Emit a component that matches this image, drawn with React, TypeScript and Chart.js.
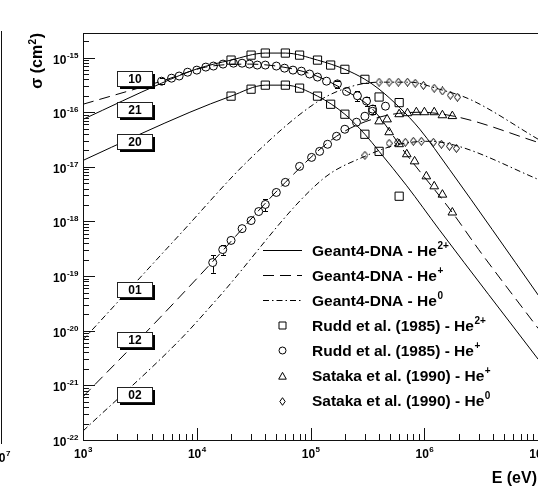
import React, { useEffect, useRef } from 'react';
import { Chart, registerables } from 'chart.js';

Chart.register(...registerables);

// ---------- axes ----------
const X_MIN = 1e3;
const X_MAX = 1e7;
const Y_MIN = 1e-22;
const Y_MAX = 2.82e-15;
const X_DECADES = [3, 4, 5, 6, 7];
const Y_DECADES = [-22, -21, -20, -19, -18, -17, -16, -15];

// ---------- Geant4-DNA model curves (E in eV, sigma in cm2) ----------
const g4_21_E = [1e3, 4.9e3, 1e4, 2e4, 4e4, 6e4, 1.15e5, 2e5, 3e5, 4e5, 6e5, 9.1e5, 1.66e6, 3.95e6, 1e7];
const g4_21_S = [7.4e-17, 3.4e-16, 6.2e-16, 9.0e-16, 1.21e-15, 1.21e-15, 9.0e-16, 6.1e-16, 4.0e-16, 2.64e-16, 1.24e-16, 4.9e-17, 9.0e-18, 7.1e-19, 4.5e-20];

const g4_20_E = [1e3, 3.16e3, 8.7e3, 2e4, 4e4, 6e4, 1.15e5, 2e5, 3e5, 4e5, 7e5, 1.35e6, 1e7];
const g4_20_S = [1.31e-17, 3.95e-17, 1.0e-16, 1.97e-16, 3.13e-16, 3.13e-16, 1.97e-16, 9.2e-17, 3.95e-17, 1.92e-17, 4.5e-18, 7.1e-19, 3.0e-21];

const g4_10_E = [1e3, 4.9e3, 1.2e4, 2.9e4, 6.5e4, 1.13e5, 2.07e5, 3.5e5, 6.95e5, 1.76e6, 3.0e6, 1e7];
const g4_10_S = [1.4e-16, 3.7e-16, 6.7e-16, 7.6e-16, 6.4e-16, 4.6e-16, 2.43e-16, 1.14e-16, 1.69e-17, 1.46e-18, 3.06e-19, 1.1e-20];

const g4_12_E = [1e3, 3.9e3, 1.38e4, 6e4, 1.69e5, 4e5, 9.1e5, 2e6, 1e7];
const g4_12_S = [6.2e-22, 1.13e-20, 1.85e-19, 5.2e-18, 3.63e-17, 8.1e-17, 1.0e-16, 8.1e-17, 2.8e-17];

const g4_01_E = [1e3, 7.1e3, 2.9e4, 1.13e5, 2.18e5, 4e5, 7.4e5, 1.35e6, 2.5e6, 1e7];
const g4_01_S = [6.8e-21, 5.8e-19, 1.37e-17, 1.52e-16, 2.88e-16, 3.55e-16, 3.55e-16, 2.64e-16, 1.73e-16, 3.2e-17];

const g4_02_E = [1e3, 7.1e3, 1.49e4, 1.27e5, 3e5, 6e5, 1.11e6, 2e6, 1e7];
const g4_02_S = [1.46e-22, 6.8e-21, 3.7e-20, 5.9e-18, 1.56e-17, 2.59e-17, 2.94e-17, 2.38e-17, 5.9e-18];

// ---------- experimental data ----------
// Rudd et al. (1985) - He2+
const rudd21_E = [2e4, 3e4, 4e4, 6e4, 8e4, 1.15e5, 1.5e5, 2e5, 3e5, 4e5, 6e5];
const rudd21_S = [9.0e-16, 1.11e-15, 1.21e-15, 1.21e-15, 1.11e-15, 9.0e-16, 7.3e-16, 6.1e-16, 4.0e-16, 1.9e-16, 1.5e-16];
const rudd20_E = [2e4, 3e4, 4e4, 6e4, 8e4, 1.15e5, 1.5e5, 2e5, 3e5, 4e5, 6e5];
const rudd20_S = [1.97e-16, 2.64e-16, 3.13e-16, 3.13e-16, 2.76e-16, 1.97e-16, 1.4e-16, 9.2e-17, 3.95e-17, 1.92e-17, 2.9e-18];

// Rudd et al. (1985) - He+
const rudd10_E = [4.9e3, 6e3, 7e3, 8.3e3, 1e4, 1.2e4, 1.4e4, 1.7e4, 2.1e4, 2.5e4, 2.9e4, 3.4e4, 4e4, 5e4, 5.9e4, 7e4, 8.3e4, 9.8e4, 1.15e5, 1.38e5, 1.72e5, 2.07e5, 2.58e5, 3.1e5, 3.5e5, 4.55e5];
const rudd10_S = [3.7e-16, 4.2e-16, 4.6e-16, 5.4e-16, 5.9e-16, 6.7e-16, 7.0e-16, 7.6e-16, 7.9e-16, 7.9e-16, 7.6e-16, 7.3e-16, 7.3e-16, 7.0e-16, 6.4e-16, 5.9e-16, 5.65e-16, 5.0e-16, 4.4e-16, 3.7e-16, 3.3e-16, 2.4e-16, 2.0e-16, 1.6e-16, 1.14e-16, 1.29e-16];
const rudd10_Err = [0.12, 0, 0, 0, 0, 0, 0, 0, 0, 0, 0, 0, 0, 0, 0, 0, 0, 0, 0, 0, 0.15, 0, 0.2, 0.2, 0.2, 0];
const rudd12_E = [1.38e4, 1.69e4, 2e4, 2.5e4, 3e4, 3.5e4, 4e4, 5e4, 6e4, 8e4, 1.02e5, 1.2e5, 1.41e5, 1.69e5, 2e5, 2.53e5, 3e5, 3.5e5];
const rudd12_S = [1.77e-19, 3.06e-19, 4.5e-19, 7.4e-19, 1.04e-18, 1.52e-18, 2.05e-18, 3.4e-18, 5.2e-18, 1.02e-17, 1.49e-17, 1.92e-17, 2.59e-17, 3.63e-17, 4.88e-17, 6.56e-17, 8.45e-17, 1.04e-16];
const rudd12_Err = [0.35, 0.2, 0, 0, 0, 0, 0.25, 0, 0, 0, 0, 0, 0, 0, 0, 0, 0, 0];

// Sataka et al. (1990) - He+
const sat12_E = [4.0e5, 4.7e5, 6e5, 7.1e5, 8.5e5, 1e6, 1.22e6, 1.44e6, 1.76e6];
const sat12_S = [6.8e-17, 7.4e-17, 9.2e-17, 9.6e-17, 1.0e-16, 1.0e-16, 1.0e-16, 8.8e-17, 8.5e-17];
const sat10_E = [4.9e5, 6e5, 7e5, 8.2e5, 1.04e6, 1.22e6, 1.44e6, 1.76e6];
const sat10_S = [4.3e-17, 2.6e-17, 1.7e-17, 1.26e-17, 6.7e-18, 4.4e-18, 3.1e-18, 1.46e-18];

// Sataka et al. (1990) - He0
const sat01_E = [4.0e5, 4.9e5, 5.9e5, 7.1e5, 8.3e5, 9.8e5, 1.22e6, 1.44e6, 1.69e6, 1.95e6];
const sat01_S = [3.55e-16, 3.55e-16, 3.55e-16, 3.55e-16, 3.4e-16, 3.1e-16, 2.75e-16, 2.45e-16, 2.05e-16, 1.88e-16];
const sat02_E = [3.0e5, 4.9e5, 5.8e5, 6.8e5, 8e5, 9.4e5, 1.2e6, 1.41e6, 1.66e6, 1.91e6];
const sat02_S = [1.63e-17, 2.7e-17, 2.82e-17, 2.82e-17, 2.94e-17, 2.94e-17, 2.82e-17, 2.59e-17, 2.38e-17, 2.18e-17];

// ---------- annotations ----------
const boxLabels = ['10', '21', '20', '01', '12', '02'];
const boxAnchorE = [2.83e3, 2.83e3, 2.83e3, 2.83e3, 2.83e3, 2.83e3];
const boxAnchorS = [4.14e-16, 1.1e-16, 2.9e-17, 5.65e-20, 6.86e-21, 6.9e-22];

const legendBase = [
  'Geant4-DNA - He',
  'Geant4-DNA - He',
  'Geant4-DNA - He',
  'Rudd et al. (1985) - He',
  'Rudd et al. (1985) - He',
  'Sataka et al. (1990) - He',
  'Sataka et al. (1990) - He',
];
const legendSup = ['2+', '+', '0', '2+', '+', '+', '0'];

const FONT = '"Liberation Sans", Arial, Helvetica, sans-serif';
const DASH_HE1 = [11, 6];
const DASH_HE0 = [6, 3, 1.5, 3];

const W = 545;
const H = 499;

const pts = (E: number[], S: number[]) => E.map((e, i) => ({ x: e, y: S[i] }));

function makeDiamond(w: number, h: number): HTMLCanvasElement {
  const c = document.createElement('canvas');
  c.width = w;
  c.height = h;
  const g = c.getContext('2d') as CanvasRenderingContext2D;
  g.strokeStyle = '#000';
  g.lineWidth = 1;
  g.beginPath();
  g.moveTo(w / 2, 0.5);
  g.lineTo(w - 0.5, h / 2);
  g.lineTo(w / 2, h - 0.5);
  g.lineTo(0.5, h / 2);
  g.closePath();
  g.stroke();
  return c;
}

function curve(label: string, E: number[], S: number[], dash: number[]) {
  return {
    label,
    data: pts(E, S),
    showLine: true,
    borderColor: '#000',
    borderWidth: 1,
    borderDash: dash,
    pointRadius: 0,
    pointHoverRadius: 0,
    fill: false,
    cubicInterpolationMode: 'monotone' as const,
    order: 2,
  };
}

function markers(label: string, E: number[], S: number[], style: any, r: number) {
  return {
    label,
    data: pts(E, S),
    showLine: false,
    pointStyle: style,
    pointRadius: r,
    pointHoverRadius: r,
    pointBorderWidth: 1,
    borderColor: '#000',
    pointBorderColor: '#000',
    backgroundColor: 'rgba(0,0,0,0)',
    pointBackgroundColor: 'rgba(0,0,0,0)',
    order: 1,
  };
}

function drawMarker(ctx: CanvasRenderingContext2D, style: string, x: number, y: number, s: number) {
  ctx.beginPath();
  if (style === 'rect') {
    ctx.rect(x - s, y - s, 2 * s, 2 * s);
  } else if (style === 'circle') {
    ctx.arc(x, y, s, 0, Math.PI * 2);
  } else if (style === 'triangle') {
    ctx.moveTo(x, y - s * 1.1);
    ctx.lineTo(x + s, y + s * 0.7);
    ctx.lineTo(x - s, y + s * 0.7);
    ctx.closePath();
  } else if (style === 'rectRot') {
    ctx.moveTo(x, y - s);
    ctx.lineTo(x + s * 0.7, y);
    ctx.lineTo(x, y + s);
    ctx.lineTo(x - s * 0.7, y);
    ctx.closePath();
  }
  ctx.stroke();
}

function drawSup(
  ctx: CanvasRenderingContext2D,
  base: string,
  sup: string,
  x: number,
  y: number,
  align: 'left' | 'center' | 'right',
  baseFont: string,
  supFont: string,
  raise: number
) {
  ctx.font = baseFont;
  const wb = ctx.measureText(base).width;
  ctx.font = supFont;
  const ws = ctx.measureText(sup).width;
  const total = wb + ws;
  const x0 = align === 'center' ? x - total / 2 : align === 'right' ? x - total : x;
  ctx.textAlign = 'left';
  ctx.textBaseline = 'alphabetic';
  ctx.font = baseFont;
  ctx.fillText(base, x0, y);
  ctx.font = supFont;
  ctx.fillText(sup, x0 + wb + 0.5, y - raise);
}

const decoPlugin = {
  id: 'deco',
  beforeDraw(chart: any) {
    const ctx: CanvasRenderingContext2D = chart.ctx;
    ctx.save();
    ctx.fillStyle = '#fff';
    ctx.fillRect(0, 0, chart.width, chart.height);
    ctx.restore();
  },
  afterDatasetsDraw(chart: any) {
    const ctx: CanvasRenderingContext2D = chart.ctx;
    const xs = chart.scales.x;
    const ys = chart.scales.y;
    const { left, right, top, bottom } = chart.chartArea;
    ctx.save();

    // error bars
    ctx.strokeStyle = '#000';
    ctx.lineWidth = 1;
    const errBars = (E: number[], S: number[], err: number[]) => {
      E.forEach((e, i) => {
        if (!err[i]) return;
        const x = Math.round(xs.getPixelForValue(e)) + 0.5;
        const yc = ys.getPixelForValue(S[i]);
        const y1 = ys.getPixelForValue(S[i] * (1 + err[i]));
        const y2 = ys.getPixelForValue(S[i] * (1 - err[i]));
        ctx.beginPath();
        ctx.moveTo(x, y1);
        ctx.lineTo(x, yc - 4);
        ctx.moveTo(x, yc + 4);
        ctx.lineTo(x, y2);
        ctx.moveTo(x - 2.5, Math.round(y1) + 0.5);
        ctx.lineTo(x + 2.5, Math.round(y1) + 0.5);
        ctx.moveTo(x - 2.5, Math.round(y2) + 0.5);
        ctx.lineTo(x + 2.5, Math.round(y2) + 0.5);
        ctx.stroke();
      });
    };
    errBars(rudd10_E, rudd10_S, rudd10_Err);
    errBars(rudd12_E, rudd12_S, rudd12_Err);

    // frame
    ctx.strokeStyle = '#111';
    ctx.lineWidth = 1;
    ctx.strokeRect(left + 0.5, top + 0.5, right - left, bottom - top);

    // ticks
    ctx.beginPath();
    for (const d of X_DECADES) {
      for (let m = 1; m <= 9; m++) {
        const v = m * Math.pow(10, d);
        if (v < X_MIN || v > X_MAX) continue;
        const x = Math.round(xs.getPixelForValue(v)) + 0.5;
        const len = m === 1 ? 12 : 6;
        ctx.moveTo(x, bottom);
        ctx.lineTo(x, bottom - len);
      }
    }
    for (const d of Y_DECADES) {
      for (let m = 1; m <= 9; m++) {
        const v = m * Math.pow(10, d);
        if (v < Y_MIN || v > Y_MAX) continue;
        const y = Math.round(ys.getPixelForValue(v)) + 0.5;
        const len = m === 1 ? 12 : 6;
        ctx.moveTo(left, y);
        ctx.lineTo(left + len, y);
      }
    }
    ctx.stroke();

    // tick labels
    ctx.fillStyle = '#000';
    const bf = `bold 12px ${FONT}`;
    const sf = `bold 8px ${FONT}`;
    for (const d of X_DECADES) {
      const x = xs.getPixelForValue(Math.pow(10, d));
      drawSup(ctx, '10', String(d), x, bottom + 18, 'center', bf, sf, 6);
    }
    for (const d of Y_DECADES) {
      const y = ys.getPixelForValue(Math.pow(10, d));
      drawSup(ctx, '10', String(d), left - 5, y + 6, 'right', bf, sf, 6);
    }

    // neighbouring panel edge (cut off at the left of the picture)
    ctx.beginPath();
    ctx.moveTo(1.5, top - 2);
    ctx.lineTo(1.5, bottom + 4);
    ctx.stroke();
    drawSup(ctx, '10', '7', 1, bottom + 22, 'center', bf, sf, 6);

    // axis titles
    ctx.font = `bold 16px ${FONT}`;
    ctx.textAlign = 'right';
    ctx.textBaseline = 'alphabetic';
    ctx.fillText('E (eV)', 537, bottom + 43);
    ctx.save();
    ctx.translate(42, top);
    ctx.rotate(-Math.PI / 2);
    ctx.font = `bold 16px ${FONT}`;
    const tA = 'σ (cm';
    const tB = '2';
    const tC = ')';
    const wA = ctx.measureText(tA).width;
    const wC = ctx.measureText(tC).width;
    ctx.font = `bold 10px ${FONT}`;
    const wB = ctx.measureText(tB).width;
    const total = wA + wB + wC + 1;
    let xx = -total;
    ctx.textAlign = 'left';
    ctx.font = `bold 16px ${FONT}`;
    ctx.fillText(tA, xx, 0);
    xx += wA;
    ctx.font = `bold 10px ${FONT}`;
    ctx.fillText(tB, xx + 0.5, -6);
    xx += wB + 1;
    ctx.font = `bold 16px ${FONT}`;
    ctx.fillText(tC, xx, 0);
    ctx.restore();

    // label boxes
    boxLabels.forEach((lab, i) => {
      const cx = xs.getPixelForValue(boxAnchorE[i]);
      const cy = ys.getPixelForValue(boxAnchorS[i]);
      const bw = 35;
      const bh = 15;
      const x0 = Math.round(cx - bw / 2);
      const y0 = Math.round(cy - bh / 2);
      ctx.fillStyle = '#000';
      ctx.fillRect(x0 + 3, y0 + 3, bw, bh);
      ctx.fillStyle = '#fff';
      ctx.fillRect(x0, y0, bw, bh);
      ctx.strokeStyle = '#222';
      ctx.lineWidth = 1;
      ctx.strokeRect(x0 + 0.5, y0 + 0.5, bw, bh);
      ctx.fillStyle = '#000';
      ctx.font = `bold 12px ${FONT}`;
      ctx.textAlign = 'center';
      ctx.textBaseline = 'middle';
      ctx.fillText(lab, x0 + bw / 2 + 0.5, y0 + bh / 2 + 1);
    });

    // legend
    const lx0 = 263;
    const lx1 = 302;
    const mx = 282;
    const tx = 312;
    const ly0 = 250;
    const step = 25.1;
    const kinds = ['solid', 'dash', 'dashdot', 'rect', 'circle', 'triangle', 'rectRot'];
    const msize: Record<string, number> = { rect: 3.5, circle: 3.5, triangle: 3.8, rectRot: 3.8 };
    legendBase.forEach((txt, i) => {
      const y = ly0 + i * step;
      const k = kinds[i];
      ctx.strokeStyle = '#000';
      ctx.lineWidth = 1;
      if (k === 'solid' || k === 'dash' || k === 'dashdot') {
        ctx.save();
        ctx.setLineDash(k === 'solid' ? [] : k === 'dash' ? DASH_HE1 : DASH_HE0);
        ctx.beginPath();
        ctx.moveTo(lx0, Math.round(y) + 0.5);
        ctx.lineTo(lx1, Math.round(y) + 0.5);
        ctx.stroke();
        ctx.restore();
      } else {
        drawMarker(ctx, k, mx + 0.5, Math.round(y) + 0.5, msize[k]);
      }
      ctx.fillStyle = '#000';
      drawSup(ctx, txt, legendSup[i], tx, y + 5.5, 'left', `bold 15.5px ${FONT}`, `bold 10px ${FONT}`, 7);
    });

    ctx.restore();
  },
};

export default function App() {
  const ref = useRef<HTMLCanvasElement | null>(null);

  useEffect(() => {
    const canvas = ref.current;
    if (!canvas) return;
    const diamond = makeDiamond(7, 9);
    const chart = new Chart(canvas, {
      type: 'scatter',
      data: {
        datasets: [
          curve('Geant4-DNA 21', g4_21_E, g4_21_S, []),
          curve('Geant4-DNA 20', g4_20_E, g4_20_S, []),
          curve('Geant4-DNA 10', g4_10_E, g4_10_S, DASH_HE1),
          curve('Geant4-DNA 12', g4_12_E, g4_12_S, DASH_HE1),
          curve('Geant4-DNA 01', g4_01_E, g4_01_S, DASH_HE0),
          curve('Geant4-DNA 02', g4_02_E, g4_02_S, DASH_HE0),
          markers('Rudd He2+ 21', rudd21_E, rudd21_S, 'rect', 5.8),
          markers('Rudd He2+ 20', rudd20_E, rudd20_S, 'rect', 5.8),
          markers('Rudd He+ 10', rudd10_E, rudd10_S, 'circle', 4),
          markers('Rudd He+ 12', rudd12_E, rudd12_S, 'circle', 4),
          markers('Sataka He+ 12', sat12_E, sat12_S, 'triangle', 5),
          markers('Sataka He+ 10', sat10_E, sat10_S, 'triangle', 5),
          markers('Sataka He0 01', sat01_E, sat01_S, diamond, 4),
          markers('Sataka He0 02', sat02_E, sat02_S, diamond, 4),
        ] as any,
      },
      options: {
        animation: false,
        responsive: false,
        devicePixelRatio: 1,
        events: [],
        layout: { padding: { left: 83, top: 33, right: W - 539, bottom: H - 440 } },
        plugins: { legend: { display: false }, tooltip: { enabled: false }, title: { display: false } },
        scales: {
          x: { type: 'logarithmic', min: X_MIN, max: X_MAX, display: false },
          y: { type: 'logarithmic', min: Y_MIN, max: Y_MAX, display: false },
        },
      } as any,
      plugins: [decoPlugin],
    });
    return () => chart.destroy();
  }, []);

  return (
    <div
      style={{
        position: 'absolute',
        left: 0,
        top: 0,
        width: 538,
        height: 499,
        overflow: 'hidden',
        background: '#fff',
      }}
    >
      <canvas ref={ref} width={W} height={H} style={{ width: W, height: H, display: 'block' }} />
    </div>
  );
}
